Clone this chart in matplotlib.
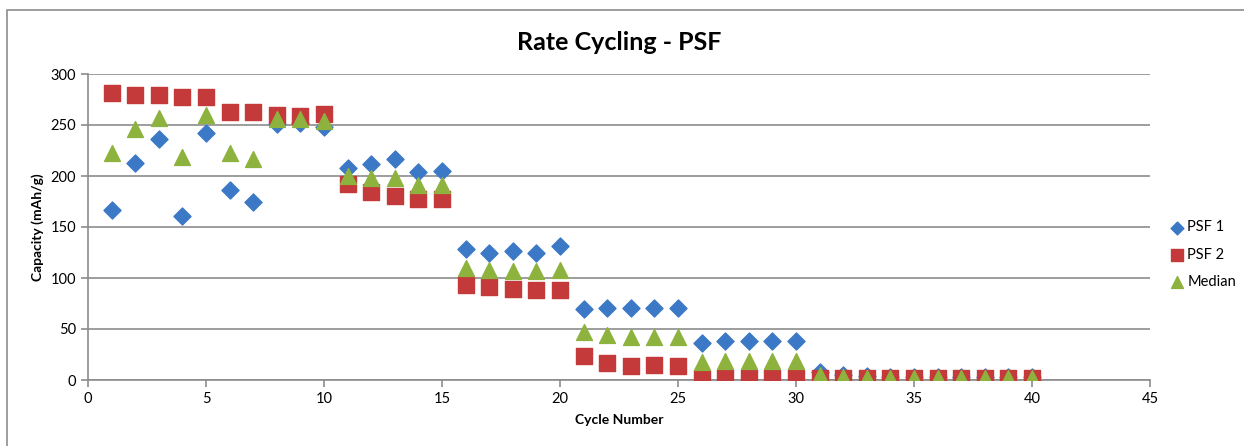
import numpy as np
import matplotlib.pyplot as plt
from matplotlib.patches import Rectangle

# Valores
ciclos = list(range(1, 41))
psf1 = [167, 213, 236, 161, 242, 186, 175, 251, 252, 248,
        208, 212, 217, 204, 205, 128, 125, 126, 125, 131,
        70, 71, 71, 71, 71, 36, 38, 38, 38, 38,
        8, 5, 4, 3, 3, 3, 3, 3, 3, 3]
psf2 = [281, 279, 279, 277, 277, 263, 263, 260, 259, 261,
        192, 184, 180, 177, 177, 93, 91, 89, 88, 88,
        24, 17, 14, 15, 14, 2, 2, 2, 2, 2,
        2, 2, 2, 2, 2, 2, 2, 2, 2, 2]
mediana = [223, 246, 257, 219, 260, 223, 217, 256, 256, 254,
           200, 198, 198, 191, 191, 110, 108, 107, 107, 108,
           47, 44, 42, 42, 42, 18, 19, 19, 19, 19,
           5, 3, 2, 2, 2, 2, 2, 2, 2, 2]

plt.rcParams['font.family'] = ['Lato', 'DejaVu Sans']

W, H = 1244, 446
fig = plt.figure(figsize=(W / 100, H / 100), dpi=100)
ax = fig.add_axes([88 / W, 1 - 380 / H, (1150 - 88) / W, (380 - 74) / H])

# Borda da área do gráfico
fig.patches.append(Rectangle((7 / W, -0.1), 1.1, 1 - 10 / H + 0.1,
                             transform=fig.transFigure, fill=False,
                             edgecolor='#8c8c8c', lw=1.2, clip_on=False))

ax.scatter(ciclos, psf1, marker='D', s=75, color='#3B78C6', label='PSF 1', zorder=3)
ax.scatter(ciclos, psf2, marker='s', s=130, color='#C4393A', label='PSF 2', zorder=4)
ax.scatter(ciclos, mediana, marker='^', s=130, color='#8DB33E', label='Median', zorder=5)

ax.set_xlim(0, 45)
ax.set_ylim(0, 300)
ax.set_xticks(np.arange(0, 46, 5))
ax.set_yticks(np.arange(0, 301, 50))
ax.yaxis.grid(True, color='#8c8c8c', lw=1.2)
ax.set_axisbelow(True)

for s in ['top', 'right']:
    ax.spines[s].set_visible(False)
for s in ['left', 'bottom']:
    ax.spines[s].set_color('#8c8c8c')
    ax.spines[s].set_linewidth(1.2)
ax.tick_params(colors='#8c8c8c', labelcolor='black', labelsize=10.5, length=5, width=1.2)

ax.set_title('Rate Cycling - PSF', fontsize=18, fontweight='bold', pad=17)
ax.set_xlabel('Cycle Number', fontsize=10, fontweight='bold', labelpad=6)
ax.set_ylabel('Capacity (mAh/g)', fontsize=10, fontweight='bold', labelpad=5)

ax.legend(loc='center left', bbox_to_anchor=(1.005, 0.41), frameon=False,
          fontsize=10.5, handletextpad=0.1, labelspacing=0.9,
          handlelength=1.2, markerscale=0.75)

fig.savefig('out.png', dpi=100)
